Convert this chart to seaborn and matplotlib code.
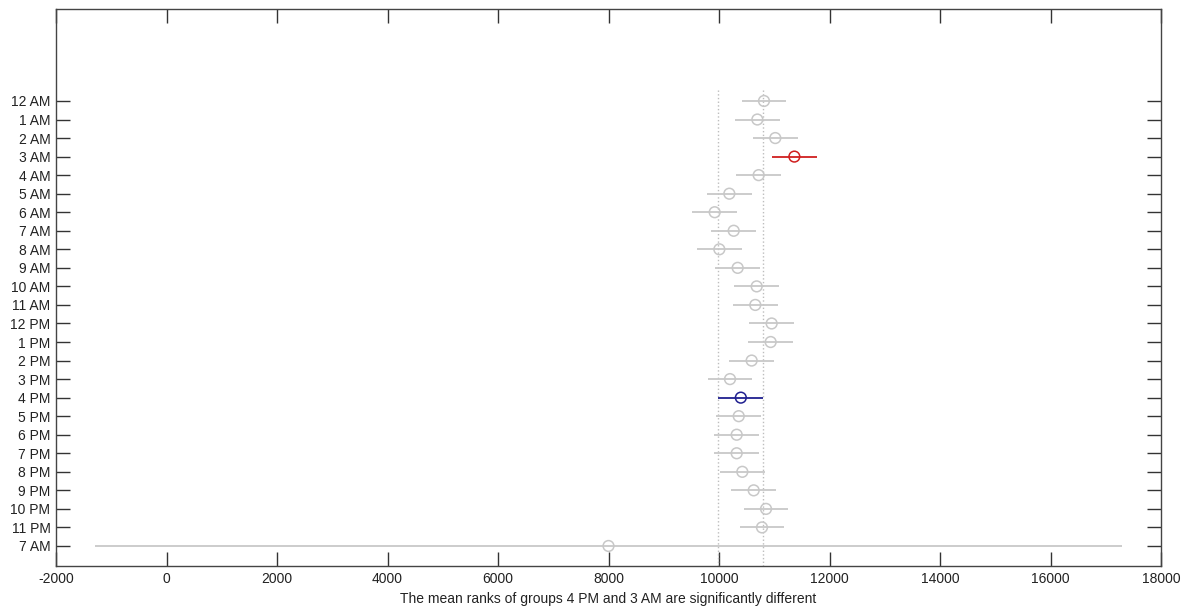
import numpy as np
import pandas as pd
import matplotlib
matplotlib.use("Agg")
import matplotlib.pyplot as plt
import seaborn as sns

groups = ["12 AM", "1 AM", "2 AM", "3 AM", "4 AM", "5 AM", "6 AM", "7 AM", "8 AM",
          "9 AM", "10 AM", "11 AM", "12 PM", "1 PM", "2 PM", "3 PM", "4 PM", "5 PM",
          "6 PM", "7 PM", "8 PM", "9 PM", "10 PM", "11 PM", "7 AM"]
mean_ranks = [10814, 10694, 11019, 11364, 10718, 10187, 9922, 10266, 10006,
              10338, 10682, 10657, 10953, 10935, 10591, 10199, 10395, 10357,
              10320, 10320, 10422, 10628, 10851, 10778, 8000]
half_widths = [405] * 24 + [9294]
status = ["other"] * 25
status[3] = "different"
status[16] = "selected"
xticks = list(range(-2000, 18001, 2000))
xlabel = "The mean ranks of groups 4 PM and 3 AM are significantly different"

sns.set_theme(style="white")
plt.rcParams["font.family"] = ["Liberation Sans", "DejaVu Sans"]

df = pd.DataFrame({
    "pos": np.arange(len(groups)),
    "group": groups,
    "rank": mean_ranks,
    "hw": half_widths,
    "status": status,
})
palette = {"other": "#c8c8c8", "different": "#d02020", "selected": "#202090"}

fig = plt.figure(figsize=(11.91, 6.08), dpi=100)
ax = fig.add_axes([56 / 1191, 1 - 566 / 608, (1161 - 56) / 1191, (566 - 9) / 608])

# comparison interval of selected group
sel = df[df["status"] == "selected"].iloc[0]
for xv in (sel["rank"] - sel["hw"], sel["rank"] + sel["hw"]):
    ax.vlines(xv, -0.6, len(groups) + 1.1, colors="#bdbdbd", linestyles=":", linewidth=1, zorder=1)

for st, sub in df.groupby("status"):
    ax.hlines(sub["pos"], sub["rank"] - sub["hw"], sub["rank"] + sub["hw"],
              colors=palette[st], linewidth=1.3, zorder=2)

sns.scatterplot(data=df, x="rank", y="pos", hue="status", palette=palette, ax=ax,
                marker="o", s=60, facecolors="none", legend=False, zorder=3, linewidth=1.1)
coll = ax.collections[-1]
coll.set_edgecolors([palette[s] for s in df["status"]])
coll.set_facecolors("none")

ax.set_xlim(-2000, 18000)
ax.set_ylim(len(groups) - 1 + 1.08, -4.96)
ax.set_xticks(xticks)
ax.set_xticklabels([str(t) for t in xticks], fontsize=10, color="#222222")
ax.set_yticks(df["pos"])
ax.set_yticklabels(groups, fontsize=10, color="#222222")
ax.set_xlabel(xlabel, fontsize=10, color="#222222", labelpad=5)
ax.set_ylabel("")

ax.tick_params(axis="both", which="both", direction="in", length=10, width=1,
               color="#333333", top=True, right=True, bottom=True, left=True, pad=4)
for sp in ax.spines.values():
    sp.set_visible(True)
    sp.set_color("#444444")
    sp.set_linewidth(1)

fig.savefig("out.png", dpi=100)
